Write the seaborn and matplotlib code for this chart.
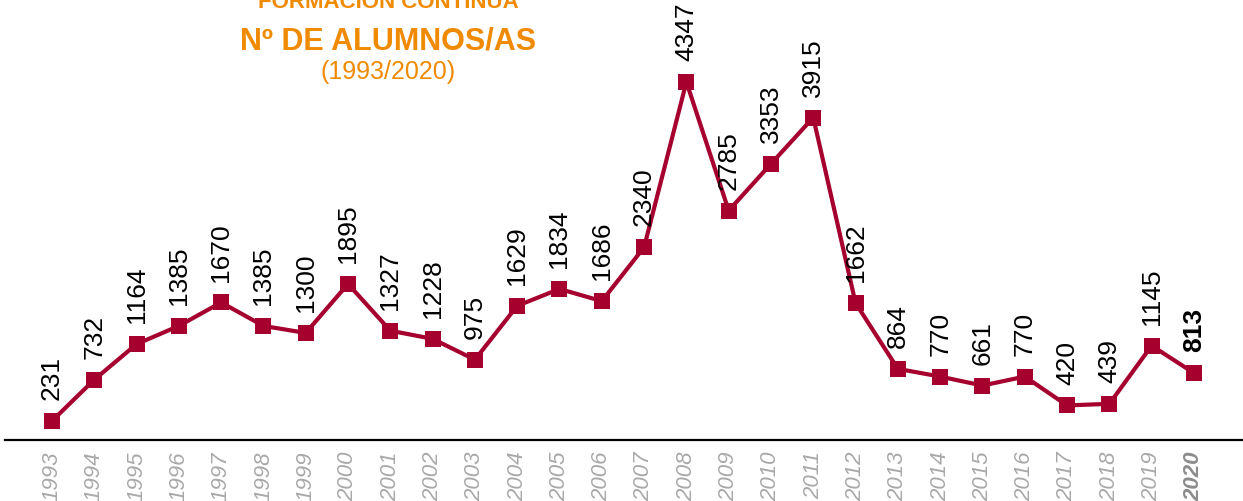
import matplotlib
matplotlib.use("Agg")
import matplotlib.pyplot as plt
import seaborn as sns
import pandas as pd

years = list(range(1993, 2021))
alumnos = [231, 732, 1164, 1385, 1670, 1385, 1300, 1895, 1327, 1228,
           975, 1629, 1834, 1686, 2340, 4347, 2785, 3353, 3915, 1662,
           864, 770, 661, 770, 420, 439, 1145, 813]

title_top = "FORMACIÓN CONTINUA"
title_main = "Nº DE ALUMNOS/AS"
title_sub = "(1993/2020)"

line_col = "#a6002f"
orange = "#f08a00"

sns.set_theme(style="white")
plt.rcParams["font.family"] = ["Liberation Sans", "DejaVu Sans"]

df = pd.DataFrame({"year": years, "n": alumnos})

fig = plt.figure(figsize=(12.43, 5.01), dpi=100)
ax = fig.add_axes([5 / 1243, 1 - 440 / 501, 1 - 5 / 1243, 440 / 501])

sns.lineplot(data=df, x="year", y="n", ax=ax, color=line_col, linewidth=3,
             marker="s", markersize=12, markeredgewidth=0)

ax.set_xlim(1991.89, 2021.16)
ax.set_ylim(0, 5342)

# value labels, vertical, above each marker
for yr, v in zip(years, alumnos):
    ax.annotate(str(v), (yr, v), xytext=(0, 15), textcoords="offset points",
                rotation=90, ha="center", va="bottom", fontsize=19,
                color="black", fontweight="bold" if yr == 2020 else "normal")

ax.set_xticks(years)
ax.set_xticklabels([str(y) for y in years], rotation=90, fontsize=16,
                   style="italic", color="#a8a8a8", va="top")
ax.get_xticklabels()[-1].set_fontweight("bold")
ax.get_xticklabels()[-1].set_color("#8c8c8c")
ax.tick_params(axis="x", length=0, pad=8)
ax.set_yticks([])
ax.set_xlabel("")
ax.set_ylabel("")

for s in ["top", "right", "left"]:
    ax.spines[s].set_visible(False)
ax.spines["bottom"].set_color("black")
ax.spines["bottom"].set_linewidth(1.6)

# titles
fig.text(388 / 1243, 1 - 8 / 501, title_top, ha="center", va="baseline",
         fontsize=16, fontweight="bold", color=orange)
fig.text(388 / 1243, 1 - 50 / 501, title_main, ha="center", va="baseline",
         fontsize=22, fontweight="bold", color=orange)
fig.text(388 / 1243, 1 - 79 / 501, title_sub, ha="center", va="baseline",
         fontsize=18, color=orange)

fig.savefig("out.png", dpi=100)
